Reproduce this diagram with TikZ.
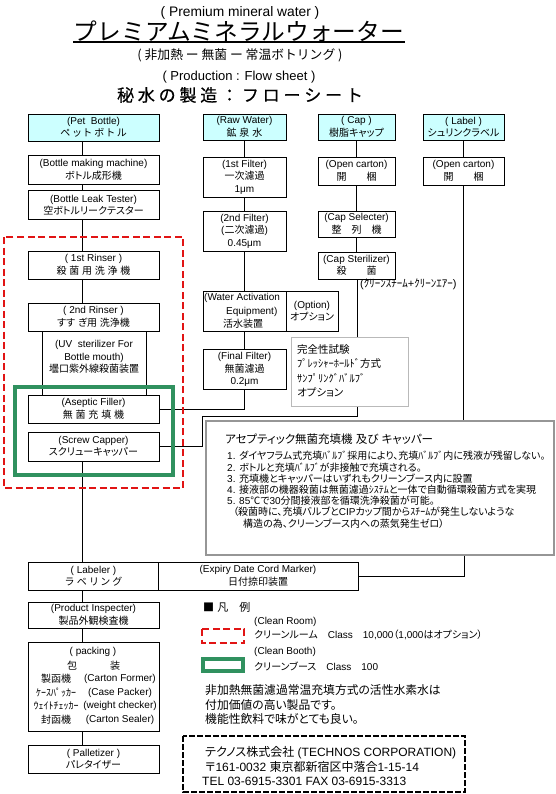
\documentclass[tikz,border=0pt]{standalone}
\usepackage{fontspec}
\setmainfont{Liberation Sans}
\newfontfamily\jpfont{Noto Sans CJK JP}[RawFeature=+palt]
\newfontfamily\jpmono{Noto Sans CJK JP}
\newfontfamily\jpheavy{Noto Sans CJK JP}[FakeBold=0.6]
% automatic switch to the Japanese font for CJK characters
\XeTeXinterchartokenstate=1
\newXeTeXintercharclass\cjkclass
\newcount\cjkcnt
\def\setcjkrange#1#2{\cjkcnt=#1\relax\loop\XeTeXcharclass\cjkcnt=\cjkclass\advance\cjkcnt by 1\relax\ifnum\cjkcnt<#2\relax\repeat}
\setcjkrange{"3000}{"3100}
\setcjkrange{"4E00}{"A000}
\setcjkrange{"FF00}{"FFF0}
\XeTeXcharclass"2103=\cjkclass
\XeTeXcharclass"25A0=\cjkclass
\XeTeXinterchartoks 0 \cjkclass = {\jpfont}
\XeTeXinterchartoks 4095 \cjkclass = {\jpfont}
\XeTeXinterchartoks \cjkclass 0 = {\rmfamily}
\XeTeXinterchartoks \cjkclass 4095 = {\rmfamily}
\def\nojp{\XeTeXinterchartokenstate=0\relax}
\definecolor{boxcyan}{RGB}{204,255,255}
\definecolor{roomred}{RGB}{225,20,20}
\definecolor{boothgreen}{RGB}{48,145,95}
\definecolor{notegray}{RGB}{185,185,185}
\definecolor{sidegray}{RGB}{150,150,150}
\begin{document}
\begin{tikzpicture}[x=1pt,y=-1pt,
  bx/.style={draw, line width=0.8pt, inner sep=0pt, align=center, fill=white, font=\fontsize{10}{12.5}\selectfont},
  cy/.style={bx, fill=boxcyan},
  tx/.style={inner sep=0pt, font=\fontsize{10}{12.5}\selectfont},
  lt/.style={inner sep=0pt, anchor=west},
  conn/.style={line width=0.8pt},
  room/.style={draw=roomred, line width=2pt, dash pattern=on 7pt off 3.5pt},
  booth/.style={draw=boothgreen, line width=4pt}]
\useasboundingbox (0,0) rectangle (556,794);

% ---------- titles ----------
\node[tx, font=\fontsize{13.8}{15}\selectfont] (t1) at (240,12.5) {( Premium mineral water )};
\node[tx, font={\nojp\jpmono\fontsize{23.7}{26}\selectfont}] (t2) at (239,31) {プレミアムミネラルウォーター};
\coordinate (u1) at (73,42); \coordinate (u2) at (405,42);
\draw[line width=1.5pt] (u1) -- (u2);
\node[tx, font={\nojp\jpmono\fontsize{12.8}{14}\selectfont}] (t3) at (240,55) {( 非加熱 ー 無菌 ー 常温ボトリング )};
\node[tx, font=\fontsize{13}{14}\selectfont] (t4) at (239,77) {( Production : Flow sheet )};
\node[tx, font={\nojp\jpheavy\fontsize{17}{20}\selectfont}] (t5) at (240,95) {秘 水 の 製 造 ： フ ロ ー シ ー ト};

% ---------- connector columns ----------
\coordinate (L1) at (82,0);
\coordinate (L3) at (357,0);
\coordinate (L4) at (464,0);

% ---------- column 1 ----------
\node[cy, minimum width=131, minimum height=27] (pet) at (93.5,127.5) {(Pet\ \ Bottle)\\ペ ッ ト ボ ト ル};
\node[bx, minimum width=131, minimum height=29] (bmm) at (93.5,170) {(Bottle making machine)\\ボトル成形機};
\node[bx, minimum width=131, minimum height=29] (leak) at (93.5,205) {(Bottle Leak Tester)\\空ボトルリークテスター};
\node[bx, minimum width=131, minimum height=28] (r1) at (93.5,265) {( 1st Rinser )\\殺 菌 用 洗 浄 機};
\node[bx, minimum width=131, minimum height=28] (r2) at (93.5,317) {( 2nd Rinser )\\すす ぎ用 洗浄機};
\node[bx, minimum width=104, minimum height=64] (uv) at (94,363) {};
\node[tx, align=center] (uvt) at (94,357) {(UV\ \ sterilizer For\\Bottle mouth)\\壜口紫外線殺菌装置};
\node[bx, minimum width=131, minimum height=28] (asep) at (93.5,409) {(Aseptic Filler)\\無 菌 充 填 機};
\node[bx, minimum width=131, minimum height=29] (capper) at (93.5,446.5) {(Screw Capper)\\スクリューキャッパー};
\node[bx, minimum width=131, minimum height=28] (labeler) at (93.5,576) {( Labeler )\\ラ ベ リ ン グ};
\node[bx, minimum width=200, minimum height=28] (expiry) at (258,576) {(Expiry Date Cord Marker)\\日付捺印装置};
\node[bx, minimum width=131, minimum height=26] (prod) at (93.5,615) {(Product Inspecter)\\製品外観検査機};
\node[bx, minimum width=131, minimum height=89] (pack) at (93.5,686.5) {};
\node[bx, minimum width=131, minimum height=28] (pal) at (93.5,759) {( Palletizer )\\パレタイザー};

% packing contents
\node[tx] (pk0) at (93,652) {( packing )};
\node[tx] (pk1) at (72,665.5) {包};
\node[tx] (pk2) at (115,665.5) {装};
\node[tx] (pj1) at (56,679) {製函機};
\node[tx] (pj2) at (56,692.5) {ｹｰｽﾊﾟｯｶｰ};
\node[tx] (pj3) at (56,706) {ｳｪｲﾄﾁｪｯｶｰ};
\node[tx] (pj4) at (56,719.5) {封函機};
\node[tx] (pe1) at (120,679) {(Carton Former)};
\node[tx] (pe2) at (120,692.5) {(Case Packer)};
\node[tx] (pe3) at (120,706) {(weight checker)};
\node[tx] (pe4) at (120,719.5) {(Carton Sealer)};

% ---------- column 2 ----------
\node[cy, minimum width=83, minimum height=26] (raw) at (244.5,127) {(Raw Water)\\鉱 泉 水};
\node[bx, minimum width=83, minimum height=40] (f1) at (244.5,177) {(1st Filter)\\一次濾過\\1μm};
\node[bx, minimum width=83, minimum height=40] (f2) at (244.5,231) {(2nd Filter)\\(二次濾過)\\0.45μm};
\node[bx, minimum width=83, minimum height=40] (wa) at (244.5,311) {};
\node[tx, anchor=west] (wa1) at (204,297.5) {(Water Activation};
\node[tx, anchor=west] (wa2) at (226,311.5) {Equipment)};
\node[tx, anchor=west] (wa3) at (223,324) {活水装置};
\node[bx, minimum width=52, minimum height=40] (opt) at (312,311) {(Option)\\オプション};
\node[bx, minimum width=83, minimum height=40] (ff) at (244.5,369.5) {(Final Filter)\\無菌濾過\\0.2μm};

% ---------- column 3 ----------
\node[cy, minimum width=77, minimum height=26] (cap) at (356.5,127) {( Cap )\\樹脂キャップ};
\node[bx, minimum width=77, minimum height=28] (oc1) at (356.5,171) {(Open carton)\\開　　梱};
\node[bx, minimum width=77, minimum height=26] (sel) at (356.5,224) {(Cap Selecter)\\整　列　機};
\node[bx, minimum width=77, minimum height=27] (ster) at (356.5,265.5) {(Cap Sterilizer)\\殺　　菌};
\node[tx, anchor=west, font=\fontsize{11}{12}\selectfont] (steam) at (360,284.5) {(ｸﾘｰﾝｽﾁｰﾑ+ｸﾘｰﾝｴｱｰ)};

% ---------- column 4 ----------
\node[cy, minimum width=81, minimum height=26] (lab) at (463.5,127) {( Label )\\シュリンクラベル};
\node[bx, minimum width=81, minimum height=28] (oc2) at (463.5,171) {(Open carton)\\開　　梱};

% ---------- connectors ----------
\coordinate (k1) at (357,416);
\coordinate (k2) at (202,416);
\begin{scope}[conn]
\draw (pet.south -| L1) -- (bmm.north -| L1);
\draw (bmm.south -| L1) -- (leak.north -| L1);
\draw (leak.south -| L1) -- (r1.north -| L1);
\draw (r1.south -| L1) -- (r2.north -| L1);
\draw (capper.south -| L1) -- (labeler.north -| L1);
\draw (labeler.south -| L1) -- (prod.north -| L1);
\draw (prod.south -| L1) -- (pack.north -| L1);
\draw (pack.south -| L1) -- (pal.north -| L1);
\draw (raw.south) -- (f1.north);
\draw (f1.south) -- (f2.north);
\draw (f2.south) -- (wa.north);
\draw (wa.south) -- (ff.north);
\draw (ff.south) |- (asep.east);
\draw (cap.south) -- (oc1.north);
\draw (oc1.south) -- (sel.north);
\draw (sel.south) -- (ster.north);
\draw (ster.south -| L3) -- (k1) -- (k2) |- (capper.east);
\draw (lab.south) -- (oc2.north);
\end{scope}

% ---------- note box (integrity test) ----------
\node[draw=notegray, fill=white, line width=1pt, minimum width=117, minimum height=69, inner sep=0pt] (note) at (349.5,371.5) {};
\node[lt, font=\fontsize{10.5}{12}\selectfont] (n1) at (297,349.5) {完全性試験};
\node[lt, font=\fontsize{10.5}{12}\selectfont] (n2) at (297,363.5) {ﾌﾟﾚｯｼｬｰﾎｰﾙﾄﾞ方式};
\node[lt, font=\fontsize{10.5}{12}\selectfont] (n3) at (297,378) {ｻﾝﾌﾟﾘﾝｸﾞﾊﾞﾙﾌﾞ};
\node[lt, font=\fontsize{10.5}{12}\selectfont] (n4) at (297,392.5) {オプション};

% ---------- side explanation box ----------
\node[draw=sidegray, fill=white, line width=1.5pt, minimum width=348, minimum height=134, inner sep=0pt] (side) at (380,488) {};
\draw[conn] (oc2.south) -- (oc2.south |- side.north);
\draw[conn] (side.south -| L4) |- (expiry.east);
\node[lt, font=\fontsize{11.5}{13}\selectfont] (s0) at (225,439.5) {アセプティック無菌充填機 及び キャッパー};
\begin{scope}[every node/.style={lt, font=\fontsize{10}{12}\selectfont}]
\node (s1) at (227,456) {1. ダイヤフラム式充填ﾊﾞﾙﾌﾞ採用により、充填ﾊﾞﾙﾌﾞ内に残液が残留しない。};
\node (s2) at (227,467.5) {2. ボトルと充填ﾊﾞﾙﾌﾞが非接触で充填される。};
\node (s3) at (227,478.5) {3. 充填機とキャッパーはいずれもクリーンブース内に設置};
\node (s4) at (227,489.5) {4. 接液部の機器殺菌は無菌濾過ｼｽﾃﾑと一体で自動循環殺菌方式を実現};
\node (s5) at (227,501) {5. 85℃で30分間接液部を循環洗浄殺菌が可能。};
\node (s6) at (233,512) {（殺菌時に、充填バルブとCIPカップ間からｽﾁｰﾑが発生しないような};
\node (s7) at (243,523.5) {構造の為、クリーンブース内への蒸気発生ゼロ）};
\end{scope}

% ---------- clean room / clean booth ----------
\draw[room] (4,237) rectangle (183,488);
\draw[booth] (15,387) rectangle (173,475);

% ---------- legend ----------
\node[lt, font=\fontsize{11}{13}\selectfont] (lg0) at (203,607) {■ 凡　例};
\draw[room] (202,629) rectangle (244,643);
\node[lt, font=\fontsize{10}{12}\selectfont] (lg1) at (254,622) {(Clean Room)};
\node[lt, font=\fontsize{10}{12}\selectfont] (lg2) at (254,635) {クリーンルーム　Class　10,000（1,000はオプション）};
\draw[booth] (203,659) rectangle (243,671);
\node[lt, font=\fontsize{10}{12}\selectfont] (lg3) at (254,652) {(Clean Booth)};
\node[lt, font=\fontsize{10}{12}\selectfont] (lg4) at (254,666) {クリーンブース　Class　100};
\node[lt, font=\fontsize{11.8}{14}\selectfont] (m1) at (205,690) {非加熱無菌濾過常温充填方式の活性水素水は};
\node[lt, font=\fontsize{11.8}{14}\selectfont] (m2) at (205,705) {付加価値の高い製品です。};
\node[lt, font=\fontsize{11.8}{14}\selectfont] (m3) at (205,719) {機能性飲料で味がとても良い。};

% ---------- company ----------
\draw[line width=1.5pt, dash pattern=on 6pt off 2pt] (183,736) rectangle (465,792);
\node[lt, font=\fontsize{12}{14}\selectfont] (c1) at (205,753) {テクノス株式会社 (TECHNOS CORPORATION)};
\node[lt, font=\fontsize{12}{14}\selectfont] (c2) at (205,767) {〒161-0032 東京都新宿区中落合1-15-14};
\node[lt, font=\fontsize{12}{14}\selectfont] (c3) at (202,781) {TEL 03-6915-3301 FAX 03-6915-3313};
\end{tikzpicture}
\end{document}
